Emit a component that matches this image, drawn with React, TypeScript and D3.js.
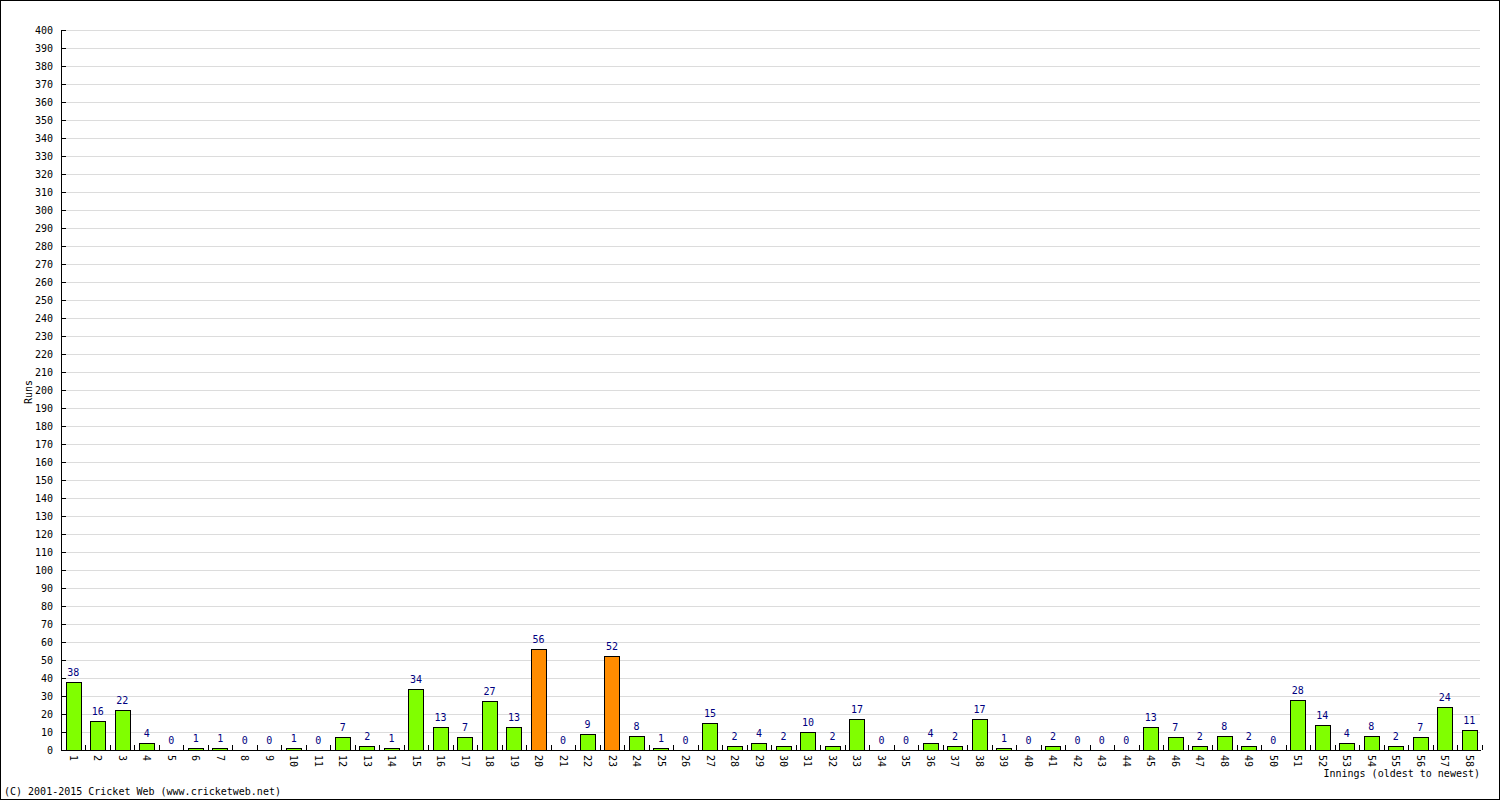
import React from "react";
import * as d3 from "d3";

const innings: number[] = d3.range(1, 59);
const runs: number[] = [38, 16, 22, 4, 0, 1, 1, 0, 0, 1, 0, 7, 2, 1, 34, 13, 7, 27, 13, 56, 0, 9, 52, 8, 1, 0, 15, 2, 4, 2, 10, 2, 17, 0, 0, 4, 2, 17, 1, 0, 2, 0, 0, 0, 13, 7, 2, 8, 2, 0, 28, 14, 4, 8, 2, 7, 24, 11];
const yTicks: number[] = d3.range(0, 401, 10);

const W = 1500, H = 800;
const left = 61, right = 1480, top = 30, bottom = 750;
const font = "'DejaVu Sans Mono', monospace";

export default function App() {
  const x = d3.scaleBand<number>().domain(innings).range([left, 1481.5]).paddingInner(0.37).paddingOuter(0.185);
  const y = d3.scaleLinear().domain([0, 400]).range([bottom, top]);
  const step = x.step();
  return (
    <svg width={W} height={H} style={{ position: "absolute", left: 0, top: 0, display: "block" }}>
      <rect x={0.5} y={0.5} width={W - 1} height={H - 1} fill="#fff" stroke="#000" />
      {yTicks.map((t) => (
        <g key={t}>
          {t > 0 && <line x1={left + 5} x2={right} y1={Math.round(y(t)) + 0.5} y2={Math.round(y(t)) + 0.5} stroke="#dcdcdc" />}
          <line x1={left} x2={left + 5} y1={Math.round(y(t)) + 0.5} y2={Math.round(y(t)) + 0.5} stroke="#000" />
          <text x={53} y={Math.round(y(t)) + 4} textAnchor="end" fontFamily={font} fontSize={10} fill="#000">{t}</text>
        </g>
      ))}
      {runs.map((r, i) => {
        const inn = innings[i];
        const bx = x(inn)!;
        const color = r >= 50 ? "#ff8c00" : "#80ff00";
        const yt = y(r);
        return (
          <g key={inn}>
            {r > 0 && <rect x={Math.round(bx) + 0.5} y={Math.round(yt) + 0.5} width={Math.round(x.bandwidth())} height={Math.round(bottom - yt)} fill={color} stroke="#000" />}
            <text x={bx + x.bandwidth() / 2} y={yt - 6} textAnchor="middle" fontFamily={font} fontSize={10} fill="#000080">{r}</text>
            <line x1={Math.round(left + step * (i + 1)) + 0.5} x2={Math.round(left + step * (i + 1)) + 0.5} y1={bottom} y2={bottom - 5} stroke="#000" />
            <text transform={`translate(${bx + x.bandwidth() / 2},${bottom + 5}) rotate(90)`} dy="0.35em" textAnchor="start" fontFamily={font} fontSize={10} fill="#000">{inn}</text>
          </g>
        );
      })}
      <line x1={left + 0.5} x2={left + 0.5} y1={top} y2={bottom + 0.5} stroke="#000" />
      <line x1={left} x2={right + 1} y1={bottom + 0.5} y2={bottom + 0.5} stroke="#000" />
      <text transform={`translate(32,392) rotate(-90)`} textAnchor="middle" fontFamily={font} fontSize={10} fill="#000">Runs</text>
      <text x={right} y={777} textAnchor="end" fontFamily={font} fontSize={10} fill="#000">Innings (oldest to newest)</text>
      <text x={4} y={795} fontFamily={font} fontSize={10} fill="#000">(C) 2001-2015 Cricket Web (www.cricketweb.net)</text>
    </svg>
  );
}
